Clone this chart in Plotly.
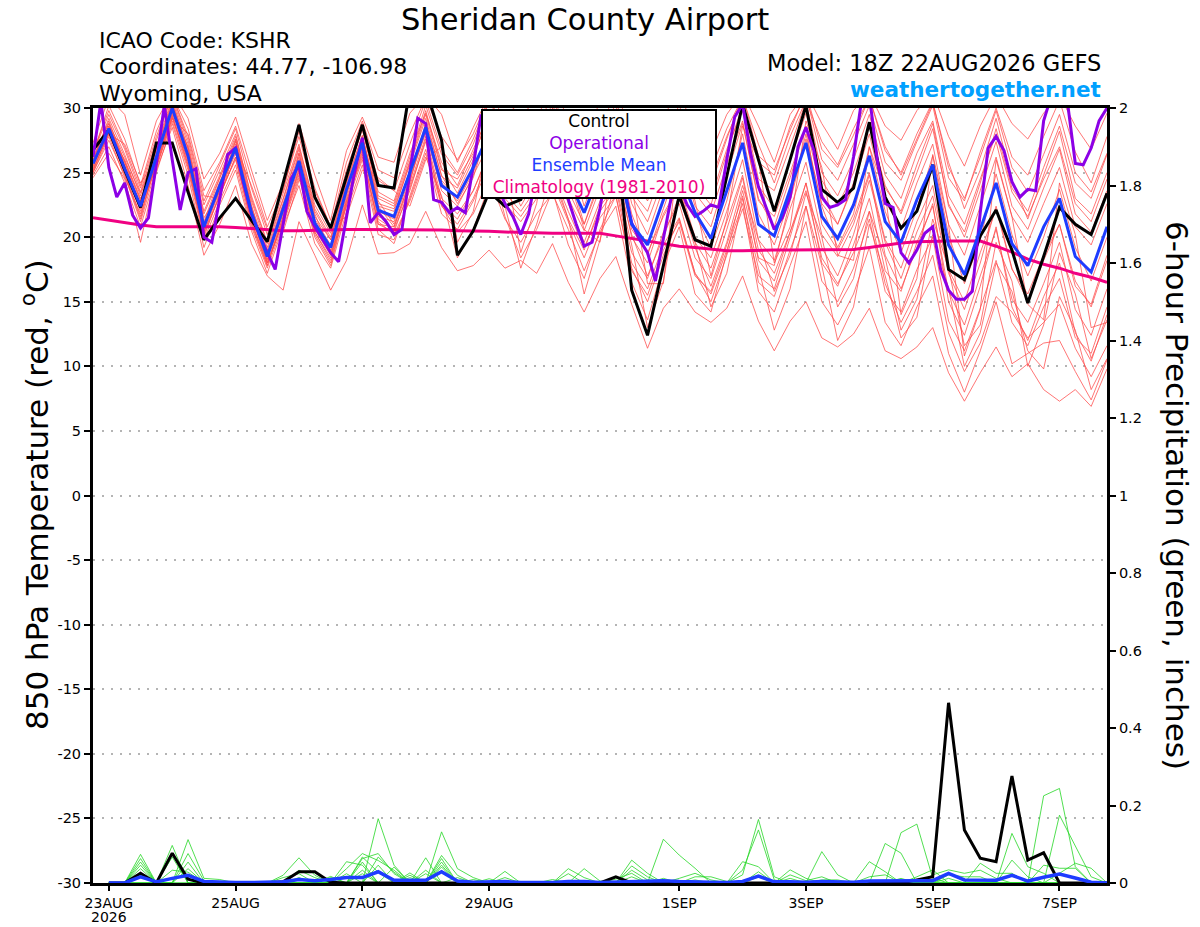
import pandas as pd
import plotly.graph_objects as go

# ---------------- data ----------------
start = "2026-08-22 18:00"
n6 = 65
n3 = 129

tick_dates = ["2026-08-23", "2026-08-25", "2026-08-27", "2026-08-29",
              "2026-09-01", "2026-09-03", "2026-09-05", "2026-09-07"]
tick_text = ["23AUG", "25AUG", "27AUG", "29AUG", "1SEP", "3SEP", "5SEP", "7SEP"]
year_label = "2026"

temp_ticks = [-30, -25, -20, -15, -10, -5, 0, 5, 10, 15, 20, 25, 30]
temp_tick_text = ["-30", "-25", "-20", "-15", "-10", "-5", "0", "5", "10", "15", "20", "25", "30"]
precip_ticks = [0, 0.2, 0.4, 0.6, 0.8, 1.0, 1.2, 1.4, 1.6, 1.8, 2.0]
precip_tick_text = ["0", "0.2", "0.4", "0.6", "0.8", "1", "1.2", "1.4", "1.6", "1.8", "2"]

control_t = [26.75, 28.3, 25.2, 22.3, 27.3, 27.3, 23.5, 19.8, 21.5, 23.0,
             21.3, 19.65, 24.2, 28.7, 23.1, 20.7, 24.7, 28.7, 24.0, 23.8,
             31.5, 31.5, 27.5, 18.6, 20.5, 23.5, 22.4, 22.9, 26.0, 28.0,
             27.0, 25.0, 26.0, 28.0, 15.9, 12.4, 17.8, 23.2, 19.8, 19.3,
             24.7, 30.3, 26.0, 22.0, 26.0, 30.2, 23.7, 22.7, 23.8, 28.9,
             23.1, 20.7, 22.0, 25.6, 17.5, 16.7, 20.1, 22.1, 19.0, 14.9,
             18.5, 22.3, 21.0, 20.2, 23.4]

mean_t = [25.7, 28.4, 25.3, 22.4, 26.2, 30.0, 26.3, 20.8, 24.0, 26.9,
          21.9, 18.5, 22.2, 25.9, 21.1, 19.2, 23.7, 27.3, 22.1, 21.6,
          25.0, 28.5, 24.0, 23.1, 25.4, 28.0, 25.5, 24.5, 26.0, 27.0,
          24.4, 21.9, 25.0, 26.5, 21.0, 19.4, 22.9, 25.0, 21.9, 19.9,
          23.6, 27.3, 21.0, 20.1, 23.7, 27.3, 21.6, 19.9, 22.5, 26.3,
          21.2, 19.6, 22.9, 25.6, 19.4, 17.1, 20.6, 24.2, 19.5, 17.8,
          20.8, 23.0, 18.5, 17.3, 20.8]

oper_t = [26.2, 30.5, 25.4, 23.1, 24.2, 21.7, 20.7, 21.5, 25.7, 30.2,
          26.0, 22.1, 25.0, 25.3, 20.0, 19.6, 23.0, 26.4, 26.9, 24.2,
          21.8, 20.2, 18.8, 17.5, 21.0, 24.5, 25.6, 22.0, 20.8, 19.8,
          18.8, 18.1, 21.5, 25.0, 27.7, 21.1, 21.9, 21.2, 20.2, 20.6,
          25.0, 29.2, 28.8, 22.9, 22.7, 21.9, 22.3, 21.9, 25.5, 29.5,
          26.0, 24.0, 22.6, 21.6, 20.2, 21.8, 25.0, 27.0, 28.0, 26.0,
          22.9, 21.0, 19.3, 19.6, 22.2, 26.0, 25.0, 24.0, 21.1, 19.8,
          18.8, 16.6, 19.9, 23.1, 24.0, 22.5, 21.6, 22.0, 22.5, 22.3,
          26.0, 29.3, 30.3, 26.5, 23.9, 22.2, 20.6, 21.5, 23.1, 27.0,
          28.5, 26.7, 23.1, 22.3, 22.5, 22.9, 26.2, 30.5, 31.0, 26.0,
          22.6, 22.3, 18.8, 18.0, 19.0, 20.3, 20.8, 17.5, 15.9, 15.2,
          15.2, 15.8, 21.9, 26.9, 27.8, 26.7, 24.3, 23.1, 23.7, 23.6,
          29.0, 31.0, 31.0, 30.5, 25.7, 25.6, 26.9, 29.0, 30.0]

clim_t = [21.5, 21.3, 21.1, 20.95, 20.8, 20.8, 20.8, 20.85, 20.8, 20.75,
          20.65, 20.55, 20.5, 20.5, 20.55, 20.6, 20.6, 20.6, 20.6, 20.6,
          20.6, 20.55, 20.55, 20.5, 20.5, 20.45, 20.4, 20.35, 20.3, 20.3,
          20.3, 20.3, 20.3, 20.1, 19.9, 19.7, 19.5, 19.3, 19.2, 19.05,
          18.95, 18.95, 19.0, 19.0, 19.0, 19.0, 19.0, 19.0, 19.05, 19.2,
          19.4, 19.55, 19.65, 19.7, 19.7, 19.7, 19.7, 19.3, 18.85, 18.3,
          17.9, 17.6, 17.2, 16.9, 16.5]

member_01 = [26.5, 29.5, 26.8, 23.5, 27.5, 31.0, 27.5, 22.5, 25.2, 28.0,
             23.0, 19.5, 23.0, 27.0, 22.5, 20.3, 24.8, 28.3, 23.5, 22.8,
             26.5, 29.6, 25.8, 24.0, 26.8, 29.5, 27.0, 26.2, 27.8, 29.0,
             26.5, 24.0, 27.0, 28.6, 23.5, 22.0, 25.5, 27.8, 24.0, 22.5,
             26.5, 30.2, 24.5, 23.6, 27.0, 30.5, 25.0, 23.2, 26.0, 29.5,
             24.8, 23.0, 26.5, 29.0, 23.2, 21.0, 24.5, 28.0, 23.5, 21.6,
             24.5, 27.0, 22.6, 21.2, 24.5]
member_02 = [24.8, 27.0, 24.2, 20.8, 25.0, 28.8, 24.8, 19.2, 22.5, 25.2,
             20.5, 17.2, 20.8, 24.0, 19.5, 17.6, 22.0, 25.6, 20.2, 19.8,
             23.0, 26.5, 21.8, 20.6, 22.8, 25.6, 22.6, 21.2, 23.0, 24.2,
             21.2, 18.4, 21.5, 23.2, 17.4, 15.5, 19.0, 21.2, 17.0, 15.8,
             19.4, 23.2, 16.5, 15.4, 19.0, 22.4, 16.6, 15.0, 17.6, 21.4,
             15.8, 14.2, 17.5, 20.0, 13.5, 11.2, 14.5, 18.2, 13.4, 11.6,
             14.6, 16.8, 12.2, 11.0, 14.6]
member_03 = [25.2, 28.0, 26.0, 23.0, 25.5, 29.6, 27.0, 21.5, 23.5, 27.5,
             22.5, 18.0, 21.6, 26.5, 21.8, 18.8, 23.2, 27.8, 22.8, 21.0,
             24.2, 28.9, 24.8, 22.6, 24.6, 28.8, 26.2, 23.8, 25.2, 27.8,
             25.2, 21.0, 24.2, 27.3, 21.8, 18.6, 22.2, 25.8, 21.8, 19.2,
             22.8, 28.0, 21.8, 19.4, 23.0, 28.0, 22.4, 19.2, 21.8, 27.0,
             22.0, 18.8, 22.2, 26.3, 20.2, 16.4, 19.8, 24.9, 20.2, 17.0,
             20.0, 23.7, 19.2, 16.6, 20.0]
member_04 = [26.0, 29.0, 25.8, 22.8, 26.8, 30.6, 26.8, 21.2, 24.6, 27.4,
             22.4, 19.0, 22.6, 26.5, 21.6, 19.8, 24.3, 27.9, 22.6, 22.2,
             25.6, 29.2, 24.7, 23.8, 26.3, 29.3, 26.9, 26.0, 27.6, 28.8,
             26.3, 24.0, 27.2, 28.9, 24.5, 23.0, 26.2, 28.5, 25.3, 24.0,
             27.6, 31.0, 26.3, 25.2, 28.3, 31.2, 26.8, 25.4, 27.9, 30.8,
             26.7, 25.0, 28.0, 30.5, 25.4, 23.0, 26.2, 29.8, 25.4, 23.5,
             26.4, 29.5, 25.0, 23.5, 26.5]
member_05 = [25.0, 27.8, 24.6, 21.8, 25.6, 29.3, 25.4, 20.2, 23.2, 26.2,
             21.0, 17.8, 21.4, 25.0, 20.4, 18.2, 22.8, 26.4, 21.0, 20.4,
             23.8, 27.4, 22.6, 21.4, 23.6, 26.6, 23.4, 22.0, 23.8, 25.0,
             22.0, 19.2, 22.0, 23.8, 18.0, 16.0, 19.4, 21.5, 17.2, 15.6,
             19.0, 22.6, 15.8, 14.2, 17.8, 21.2, 15.0, 13.2, 15.6, 19.2,
             13.4, 11.6, 14.6, 17.0, 11.0, 8.0, 11.2, 15.0, 10.2, 11.0,
             11.8, 12.0, 9.6, 7.4, 10.5]
member_06 = [24.6, 26.5, 24.5, 19.6, 25.2, 28.5, 24.0, 18.6, 21.0, 24.0,
             19.5, 17.0, 15.9, 21.2, 18.6, 15.9, 18.2, 22.5, 18.7, 18.8,
             19.5, 22.0, 19.2, 17.4, 17.8, 19.0, 17.6, 18.2, 17.2, 19.5,
             16.5, 14.2, 16.8, 18.5, 14.8, 11.4, 14.5, 16.0, 14.2, 13.4,
             14.5, 17.0, 13.5, 11.2, 13.5, 15.0, 12.2, 11.5, 12.5, 14.5,
             11.2, 10.6, 11.5, 13.0, 9.5, 7.3, 9.5, 11.5, 9.2, 10.2,
             8.2, 7.3, 8.2, 6.9, 9.8]
member_07 = [27.3, 30.8, 29.5, 24.8, 29.0, 31.2, 29.2, 24.5, 26.5, 29.3,
             25.2, 21.3, 24.2, 28.8, 24.8, 21.3, 26.7, 29.3, 26.2, 25.8,
             29.6, 31.0, 29.5, 25.8, 28.5, 31.0, 30.5, 29.5, 30.5, 31.0,
             29.5, 27.5, 30.5, 31.0, 28.5, 25.5, 29.5, 31.0, 28.5, 26.5,
             29.5, 31.2, 28.6, 25.8, 29.5, 31.2, 28.8, 26.8, 29.8, 31.2,
             28.6, 27.5, 29.8, 31.2, 27.8, 25.5, 28.6, 31.0, 28.8, 27.6,
             29.6, 31.0, 28.6, 26.8, 29.6]
member_08 = [25.5, 28.2, 25.0, 21.6, 26.0, 29.8, 25.8, 20.4, 23.6, 26.5,
             21.5, 18.2, 22.0, 25.6, 20.8, 19.0, 23.4, 26.9, 21.6, 21.2,
             24.6, 28.1, 23.6, 22.4, 24.8, 27.2, 24.4, 23.5, 25.2, 26.0,
             23.0, 20.5, 23.8, 25.6, 20.0, 18.0, 21.8, 24.0, 20.0, 18.4,
             22.0, 26.0, 19.8, 18.2, 22.2, 25.8, 20.2, 18.5, 21.0, 24.8,
             19.8, 17.6, 21.2, 24.0, 17.5, 15.0, 18.8, 22.2, 17.5, 15.6,
             18.6, 21.0, 16.2, 14.8, 18.6]
member_09 = [26.2, 28.8, 25.6, 22.2, 26.6, 30.3, 26.6, 21.0, 24.3, 27.2,
             22.2, 18.8, 22.5, 26.2, 21.4, 19.4, 24.0, 27.6, 22.4, 22.0,
             25.8, 29.5, 25.2, 24.5, 26.5, 29.8, 27.0, 25.8, 27.2, 28.6,
             25.8, 23.0, 26.0, 28.0, 23.2, 21.2, 24.5, 27.4, 23.4, 21.8,
             25.6, 29.0, 22.8, 21.6, 25.0, 28.6, 21.0, 19.0, 21.4, 25.0,
             18.6, 16.0, 19.2, 22.6, 15.0, 12.4, 16.2, 20.8, 14.6, 12.0,
             15.4, 18.0, 12.6, 10.4, 14.0]
member_10 = [25.4, 28.6, 25.9, 22.9, 26.4, 30.1, 26.0, 20.6, 23.8, 26.7,
             21.7, 18.3, 21.8, 25.4, 20.6, 18.6, 23.0, 27.0, 21.4, 20.6,
             23.6, 27.6, 22.5, 20.4, 21.8, 24.6, 21.4, 19.6, 21.8, 23.4,
             20.6, 17.4, 20.4, 22.4, 16.5, 13.6, 17.8, 20.8, 15.6, 14.2,
             18.8, 23.6, 18.4, 17.8, 22.8, 27.6, 22.6, 21.0, 24.2, 28.6,
             23.8, 22.0, 25.6, 28.8, 22.4, 20.4, 24.2, 28.4, 23.8, 22.0,
             25.4, 28.6, 24.2, 23.0, 26.4]
member_11 = [25.9, 29.2, 26.4, 23.2, 27.0, 30.8, 27.2, 22.0, 24.8, 27.8,
             23.2, 19.6, 23.4, 27.2, 22.2, 20.0, 24.5, 28.5, 23.2, 22.6,
             26.2, 30.2, 26.4, 24.8, 27.2, 30.5, 28.4, 27.0, 28.5, 30.2,
             27.8, 25.0, 28.0, 29.6, 25.0, 22.8, 26.0, 29.0, 24.5, 23.0,
             26.8, 29.8, 24.0, 22.2, 26.0, 29.6, 24.4, 22.4, 25.0, 28.6,
             24.0, 21.8, 25.0, 28.4, 22.6, 20.0, 23.6, 27.4, 22.4, 20.6,
             23.8, 26.8, 21.8, 20.4, 23.6]
member_12 = [25.0, 27.5, 24.8, 21.2, 25.4, 29.0, 25.2, 19.8, 22.8, 25.6,
             20.8, 17.6, 21.0, 24.6, 20.0, 17.8, 22.5, 26.0, 20.6, 19.5,
             23.2, 26.8, 22.4, 21.0, 23.0, 26.0, 23.0, 21.6, 23.4, 24.6,
             21.4, 19.0, 22.4, 24.0, 18.8, 16.8, 20.4, 22.6, 18.4, 16.8,
             20.6, 24.6, 18.2, 16.6, 20.4, 24.2, 18.0, 16.2, 19.4, 23.0,
             17.4, 15.8, 19.6, 22.4, 15.8, 13.2, 17.0, 20.6, 15.2, 13.4,
             16.4, 19.6, 14.4, 12.4, 16.0]
member_13 = [26.8, 28.0, 27.2, 24.2, 26.0, 29.2, 28.0, 23.2, 23.0, 27.0,
             24.0, 20.6, 20.4, 24.4, 23.6, 20.8, 21.6, 25.2, 24.6, 23.6,
             22.4, 26.0, 27.0, 19.6, 22.0, 27.8, 25.8, 18.8, 22.6, 30.0,
             24.8, 20.6, 19.6, 27.5, 24.0, 16.4, 16.4, 27.0, 22.8, 17.0,
             21.4, 28.6, 26.0, 18.0, 20.8, 29.0, 25.4, 18.6, 18.2, 27.0,
             23.4, 14.0, 16.8, 26.4, 21.0, 10.8, 14.4, 26.0, 21.6, 14.8,
             13.6, 24.2, 20.2, 13.0, 13.4]
member_14 = [26.4, 30.2, 27.6, 24.0, 28.2, 31.0, 28.4, 23.6, 25.8, 28.6,
             24.6, 20.8, 23.6, 28.2, 23.8, 20.8, 25.8, 29.0, 25.2, 24.6,
             28.0, 30.8, 27.8, 26.0, 28.0, 30.8, 29.4, 28.2, 29.6, 30.8,
             28.4, 26.2, 29.2, 30.6, 26.6, 24.6, 27.8, 30.2, 26.8, 25.2,
             28.4, 30.8, 27.2, 24.2, 27.8, 30.6, 27.4, 25.6, 28.4, 30.8,
             27.0, 24.8, 27.6, 30.4, 25.8, 22.2, 25.2, 29.2, 24.4, 21.4,
             24.8, 28.2, 23.0, 21.8, 25.0]
member_15 = [25.8, 28.6, 25.5, 22.6, 26.4, 30.2, 26.2, 21.0, 24.2, 27.0,
             22.0, 18.6, 22.2, 26.0, 21.2, 19.2, 23.6, 27.4, 22.0, 21.4,
             25.2, 28.6, 24.2, 22.8, 25.0, 28.2, 25.6, 23.2, 25.6, 27.4,
             23.6, 21.0, 24.6, 26.0, 20.6, 18.8, 21.6, 23.8, 19.6, 17.6,
             21.2, 24.8, 19.0, 17.2, 20.4, 23.6, 18.4, 16.4, 18.8, 22.0,
             16.4, 13.4, 15.8, 18.6, 12.6, 9.6, 11.8, 15.4, 14.2, 12.2,
             13.4, 14.8, 11.4, 9.2, 11.6]
member_16 = [26.0, 28.8, 26.2, 23.4, 26.8, 30.4, 26.9, 21.8, 24.6, 27.6,
             22.8, 19.2, 22.9, 26.8, 22.0, 19.8, 24.2, 27.8, 23.0, 22.4,
             25.9, 29.8, 25.4, 23.4, 26.0, 29.8, 27.4, 24.6, 26.6, 29.4,
             26.8, 22.4, 25.6, 28.2, 22.6, 20.2, 23.8, 26.6, 22.4, 20.8,
             24.8, 28.8, 23.0, 20.8, 24.6, 28.6, 23.4, 21.0, 24.0, 28.0,
             22.8, 20.6, 24.2, 27.2, 21.0, 18.6, 22.4, 26.2, 21.6, 19.6,
             22.6, 25.4, 20.8, 19.4, 22.6]
member_17 = [25.3, 28.0, 25.2, 22.0, 25.8, 29.4, 25.6, 20.4, 23.2, 26.2,
             21.2, 18.0, 21.2, 24.8, 20.4, 18.4, 22.8, 26.2, 21.2, 20.2,
             22.8, 26.2, 23.2, 18.4, 20.6, 24.0, 22.4, 17.6, 21.0, 25.2,
             21.4, 15.6, 19.8, 24.4, 19.4, 13.0, 16.6, 23.6, 19.6, 14.6,
             17.2, 23.0, 17.6, 12.8, 16.0, 22.4, 17.8, 12.0, 14.6, 21.0,
             17.0, 12.2, 13.8, 20.2, 16.0, 10.0, 12.6, 18.0, 15.8, 11.2,
             9.8, 15.4, 12.8, 8.2, 10.6]
member_18 = [26.6, 29.8, 27.0, 23.8, 27.8, 31.0, 27.8, 22.8, 25.6, 28.4,
             23.8, 20.2, 23.8, 27.8, 23.2, 20.6, 25.2, 28.8, 24.4, 23.6,
             27.2, 30.6, 26.8, 25.0, 27.6, 30.6, 28.6, 27.6, 29.0, 30.6,
             28.0, 25.6, 28.6, 30.2, 25.8, 23.8, 27.2, 29.6, 25.6, 24.4,
             27.8, 30.6, 25.8, 24.8, 28.6, 31.0, 26.0, 24.4, 27.2, 30.2,
             25.8, 24.4, 27.4, 30.2, 24.6, 22.8, 26.6, 30.0, 26.2, 24.8,
             27.8, 30.6, 26.6, 24.2, 27.8]
member_19 = [25.6, 28.0, 24.9, 21.4, 25.9, 29.5, 25.6, 20.0, 23.4, 26.0,
             21.2, 17.8, 21.6, 25.2, 20.2, 18.0, 22.6, 26.6, 21.0, 20.8,
             24.0, 27.8, 23.0, 21.8, 23.6, 26.4, 21.6, 18.4, 20.6, 23.6,
             19.4, 16.8, 20.6, 23.2, 17.6, 15.0, 18.6, 21.4, 17.2, 15.0,
             18.6, 22.2, 17.0, 16.0, 20.0, 24.2, 19.2, 17.0, 20.2, 24.4,
             19.6, 16.8, 20.4, 23.2, 17.2, 14.4, 18.0, 22.4, 17.6, 15.0,
             18.2, 21.0, 16.6, 14.6, 18.2]
member_20 = [25.1, 28.2, 25.8, 22.4, 25.4, 29.2, 26.0, 20.8, 23.6, 26.8,
             21.6, 18.0, 21.2, 25.2, 21.2, 18.6, 22.4, 26.8, 22.4, 20.8,
             24.4, 28.2, 24.4, 23.0, 25.2, 28.4, 25.2, 22.4, 24.6, 26.4,
             22.6, 19.6, 22.8, 25.0, 20.2, 17.0, 20.0, 23.2, 19.2, 16.2,
             19.6, 24.0, 19.8, 15.8, 18.6, 23.4, 20.0, 14.6, 16.8, 22.0,
             18.4, 12.8, 15.2, 21.4, 17.6, 11.6, 13.2, 19.6, 16.6, 10.0,
             13.2, 18.8, 15.6, 10.6, 13.6]

control_p = [None, 0, 0, 0.025, 0, 0.077, 0.01, 0, 0, 0,
             0, 0, 0.003, 0.029, 0.029, 0.002, 0, 0, 0, 0,
             0, 0, 0, 0, 0, 0, 0, 0, 0, 0,
             0, 0, 0, 0.016, 0, 0, 0, 0, 0, 0,
             0, 0, 0, 0, 0, 0, 0, 0, 0, 0,
             0, 0, 0.008, 0.016, 0.465, 0.137, 0.064, 0.055, 0.276, 0.059,
             0.078, 0, 0, 0, 0]
mean_p = [None, 0, 0, 0.016, 0.003, 0.012, 0.02, 0.004, 0.002, 0.001,
          0.001, 0.001, 0.003, 0.009, 0.006, 0.009, 0.014, 0.014, 0.029, 0.007,
          0.007, 0.007, 0.029, 0.005, 0.002, 0.002, 0.004, 0.001, 0.001, 0.001,
          0.004, 0.004, 0.001, 0.002, 0.005, 0.004, 0.006, 0.004, 0.004, 0.002,
          0.001, 0.004, 0.018, 0.003, 0.003, 0.002, 0.004, 0.002, 0.002, 0.005,
          0.006, 0.006, 0.006, 0.006, 0.025, 0.008, 0.008, 0.007, 0.02, 0.005,
          0.015, 0.023, 0.013, 0.002, 0]

precip_01 = [None, 0, 0, 0.074, 0, 0.033, 0.028, 0, 0, 0,
             0, 0, 0, 0, 0, 0, 0.037, 0.076, 0.058, 0.033,
             0, 0.024, 0, 0, 0, 0, 0.03, 0, 0, 0,
             0, 0, 0, 0.01, 0.025, 0, 0, 0, 0, 0,
             0, 0.033, 0.137, 0.008, 0, 0, 0, 0, 0, 0,
             0, 0, 0, 0, 0.012, 0, 0, 0, 0, 0,
             0.046, 0.038, 0.038, 0, 0]
precip_02 = [None, 0, 0, 0.063, 0, 0.097, 0, 0, 0, 0,
             0, 0, 0, 0.033, 0.014, 0, 0, 0.067, 0.028, 0,
             0.014, 0, 0.071, 0.02, 0, 0, 0, 0, 0, 0,
             0.024, 0, 0, 0, 0.059, 0.025, 0, 0, 0, 0,
             0, 0, 0, 0, 0, 0, 0.008, 0.008, 0, 0,
             0, 0, 0, 0.021, 0.034, 0.025, 0.033, 0.012, 0, 0,
             0, 0, 0, 0, 0]
precip_03 = [None, 0, 0, 0.054, 0, 0, 0.112, 0.012, 0.009, 0,
             0, 0, 0, 0, 0, 0, 0, 0.063, 0.076, 0.024,
             0, 0, 0.041, 0, 0.009, 0, 0, 0, 0, 0.009,
             0, 0, 0, 0, 0, 0, 0.012, 0, 0.008, 0,
             0, 0.021, 0.164, 0.016, 0, 0, 0, 0, 0, 0,
             0, 0, 0, 0, 0, 0, 0.051, 0.025, 0.025, 0,
             0, 0, 0, 0, 0]
precip_04 = [None, 0, 0, 0.046, 0, 0, 0.076, 0.006, 0, 0,
             0, 0, 0, 0, 0, 0, 0, 0.054, 0, 0.041,
             0, 0, 0.132, 0.037, 0.014, 0, 0, 0, 0, 0,
             0, 0, 0, 0, 0.016, 0, 0, 0, 0, 0,
             0, 0, 0, 0, 0.012, 0, 0, 0, 0, 0,
             0.102, 0.077, 0, 0, 0, 0, 0, 0, 0, 0,
             0, 0.025, 0.051, 0.038, 0]
precip_05 = [None, 0, 0, 0.037, 0, 0.076, 0, 0, 0, 0,
             0, 0, 0.02, 0.065, 0.02, 0, 0, 0, 0.046, 0,
             0.026, 0, 0.054, 0, 0, 0, 0, 0, 0, 0,
             0, 0, 0, 0, 0, 0, 0, 0, 0.016, 0.016,
             0.004, 0, 0.029, 0, 0, 0, 0, 0, 0, 0.055,
             0.029, 0, 0, 0, 0, 0, 0, 0, 0.059, 0.016,
             0, 0, 0, 0, 0]
precip_06 = [None, 0, 0, 0.02, 0, 0, 0.054, 0, 0, 0,
             0, 0, 0, 0, 0, 0.017, 0, 0.033, 0, 0,
             0, 0.065, 0, 0.014, 0, 0, 0, 0, 0, 0,
             0.037, 0.014, 0, 0, 0.044, 0.016, 0, 0, 0, 0,
             0, 0, 0, 0, 0.021, 0.006, 0.016, 0, 0, 0,
             0, 0.13, 0.152, 0.012, 0, 0, 0, 0, 0, 0,
             0, 0, 0, 0, 0]
precip_07 = [None, 0, 0, 0, 0, 0.067, 0, 0, 0, 0,
             0, 0, 0, 0.014, 0, 0, 0, 0, 0.166, 0.046,
             0, 0, 0, 0, 0, 0, 0.014, 0, 0, 0,
             0, 0, 0, 0, 0, 0, 0.113, 0.072, 0.038, 0,
             0, 0, 0, 0, 0, 0, 0, 0, 0, 0,
             0, 0, 0.016, 0.034, 0, 0, 0, 0, 0, 0,
             0, 0, 0, 0, 0]
precip_08 = [None, 0, 0, 0, 0, 0, 0.037, 0, 0, 0,
             0, 0, 0, 0, 0, 0, 0.055, 0.046, 0, 0,
             0.02, 0, 0.063, 0, 0, 0, 0, 0, 0, 0,
             0, 0.037, 0.005, 0, 0, 0, 0, 0, 0, 0,
             0, 0.055, 0.042, 0, 0, 0, 0, 0, 0, 0.016,
             0.021, 0, 0, 0, 0, 0, 0, 0, 0, 0,
             0.225, 0.244, 0.042, 0, 0]
precip_09 = [None, 0, 0, 0, 0, 0, 0, 0, 0, 0,
             0, 0, 0.014, 0.024, 0, 0.014, 0, 0.024, 0, 0,
             0, 0.033, 0, 0, 0, 0.011, 0, 0, 0, 0,
             0, 0, 0, 0, 0.033, 0.008, 0, 0, 0, 0,
             0, 0, 0.016, 0, 0.034, 0.012, 0, 0, 0, 0,
             0, 0.012, 0, 0, 0, 0, 0, 0, 0.128, 0.042,
             0.025, 0, 0, 0, 0]
precip_10 = [None, 0, 0, 0, 0, 0, 0, 0, 0, 0,
             0, 0, 0, 0, 0, 0, 0.024, 0, 0.067, 0.028,
             0, 0, 0.046, 0, 0, 0, 0, 0, 0, 0,
             0, 0, 0, 0, 0, 0, 0, 0.012, 0.025, 0.008,
             0, 0, 0, 0, 0, 0, 0.081, 0.021, 0, 0,
             0, 0, 0, 0, 0.021, 0.016, 0.016, 0, 0, 0,
             0, 0.175, 0.095, 0.016, 0]

temp_members = [member_01, member_02, member_03, member_04, member_05, member_06, member_07,
                member_08, member_09, member_10, member_11, member_12, member_13, member_14,
                member_15, member_16, member_17, member_18, member_19, member_20]
precip_members = [precip_01, precip_02, precip_03, precip_04, precip_05,
                  precip_06, precip_07, precip_08, precip_09, precip_10]

# ---------------- figure ----------------
t6 = pd.date_range(start, periods=n6, freq="6h")
t3 = pd.date_range(start, periods=n3, freq="3h")

RED = "rgba(255,75,75,0.85)"
GREEN = "rgba(40,215,40,0.9)"
PURPLE = "#8c00e6"
BLUE = "#1e3cff"
PINK = "#f00082"

fig = go.Figure()
for m in temp_members:
    fig.add_trace(go.Scatter(x=t6, y=m, mode="lines", line=dict(color=RED, width=0.9),
                             hoverinfo="skip", showlegend=False))
for m in precip_members:
    fig.add_trace(go.Scatter(x=t6, y=m, mode="lines", line=dict(color=GREEN, width=0.9),
                             yaxis="y2", hoverinfo="skip", showlegend=False))
fig.add_trace(go.Scatter(x=t6, y=clim_t, mode="lines", line=dict(color=PINK, width=3),
                         showlegend=False))
fig.add_trace(go.Scatter(x=t6, y=control_t, mode="lines", line=dict(color="black", width=3),
                         showlegend=False))
fig.add_trace(go.Scatter(x=t6, y=control_p, mode="lines", line=dict(color="black", width=3),
                         yaxis="y2", showlegend=False))
fig.add_trace(go.Scatter(x=t3, y=oper_t, mode="lines", line=dict(color=PURPLE, width=3),
                         showlegend=False))
fig.add_trace(go.Scatter(x=t6, y=mean_t, mode="lines", line=dict(color=BLUE, width=3),
                         showlegend=False))
fig.add_trace(go.Scatter(x=t6, y=mean_p, mode="lines", line=dict(color=BLUE, width=3.5),
                         yaxis="y2", showlegend=False))

FONT = "DejaVu Sans"
W, H = 1200, 927
L, R, T, B = 93, 1107, 108, 883


def px(x):
    return (x - L) / (R - L)


def py(y):
    return (B - y) / (B - T)


fig.update_layout(
    width=W, height=H,
    margin=dict(l=L, r=W - R, t=T, b=H - B, autoexpand=False),
    paper_bgcolor="white", plot_bgcolor="white",
    font=dict(family=FONT, color="black"),
    showlegend=False,
    xaxis=dict(
        type="date",
        range=[t6[0], t6[-1]],
        tickvals=pd.to_datetime(tick_dates), ticktext=tick_text,
        ticks="outside", ticklen=5, tickwidth=1.5, tickcolor="black",
        tickfont=dict(size=14, family=FONT),
        showline=True, linecolor="black", linewidth=3, mirror=True,
        showgrid=False, zeroline=False,
    ),
    yaxis=dict(
        range=[-30, 30], tickvals=temp_ticks, ticktext=temp_tick_text,
        ticks="outside", ticklen=6, tickwidth=1.5, tickcolor="black",
        tickfont=dict(size=14.5, family=FONT),
        showline=True, linecolor="black", linewidth=3,
        showgrid=True, gridcolor="#b4b4b4", gridwidth=1.5, griddash="2px,7px",
        zeroline=False,
    ),
    yaxis2=dict(
        range=[0, 2], tickvals=precip_ticks, ticktext=precip_tick_text,
        overlaying="y", side="right",
        ticks="outside", ticklen=6, tickwidth=1.5, tickcolor="black",
        tickfont=dict(size=14.5, family=FONT),
        showline=True, linecolor="black", linewidth=3,
        showgrid=False, zeroline=False,
    ),
)

ann = []
ann.append(dict(text="Sheridan County Airport", x=px(585), y=py(19), xref="paper", yref="paper",
                xanchor="center", yanchor="middle", showarrow=False,
                font=dict(size=30.5, family=FONT, color="black")))
for txt, yy in [("ICAO Code: KSHR", 40), ("Coordinates: 44.77, -106.98", 66), ("Wyoming, USA", 93)]:
    ann.append(dict(text=txt, x=px(97), y=py(yy), xref="paper", yref="paper",
                    xanchor="left", yanchor="middle", showarrow=False,
                    font=dict(size=22, family=FONT, color="black")))
ann.append(dict(text="Model: 18Z 22AUG2026 GEFS", x=px(1103), y=py(63), xref="paper", yref="paper",
                xanchor="right", yanchor="middle", showarrow=False,
                font=dict(size=22.5, family=FONT, color="black")))
ann.append(dict(text="<b>weathertogether.net</b>", x=px(1103), y=py(89), xref="paper", yref="paper",
                xanchor="right", yanchor="middle", showarrow=False,
                font=dict(size=21.5, family=FONT, color="#00a0ff")))
ann.append(dict(text=year_label, x=pd.to_datetime(tick_dates[0]), y=py(916.5), xref="x", yref="paper",
                xanchor="center", yanchor="middle", showarrow=False,
                font=dict(size=14, family=FONT, color="black")))
ann.append(dict(text="850 hPa Temperature (red, <sup>o</sup>C)", x=px(35), y=py(495),
                xref="paper", yref="paper", xanchor="center", yanchor="middle", textangle=-90,
                showarrow=False, font=dict(size=31, family=FONT, color="black")))
ann.append(dict(text="6-hour Precipitation (green, inches)", x=px(1177), y=py(495),
                xref="paper", yref="paper", xanchor="center", yanchor="middle", textangle=90,
                showarrow=False, font=dict(size=31, family=FONT, color="black")))
legend_txt = ("<span style='color:black'>Control</span><br>"
              f"<span style='color:{PURPLE}'>Operational</span><br>"
              f"<span style='color:{BLUE}'>Ensemble Mean</span><br>"
              f"<span style='color:{PINK}'>Climatology (1981-2010)</span>")
ann.append(dict(text=legend_txt, x=px(599), y=py(153.5), xref="paper", yref="paper",
                xanchor="center", yanchor="middle", showarrow=False,
                width=232, height=86, align="center", valign="middle",
                bgcolor="white", bordercolor="black", borderwidth=2, borderpad=0,
                font=dict(size=17, family=FONT)))
fig.update_layout(annotations=ann)

fig.write_html("out.html", config={"displayModeBar": False},
               post_script="document.body.style.margin='0px';")
